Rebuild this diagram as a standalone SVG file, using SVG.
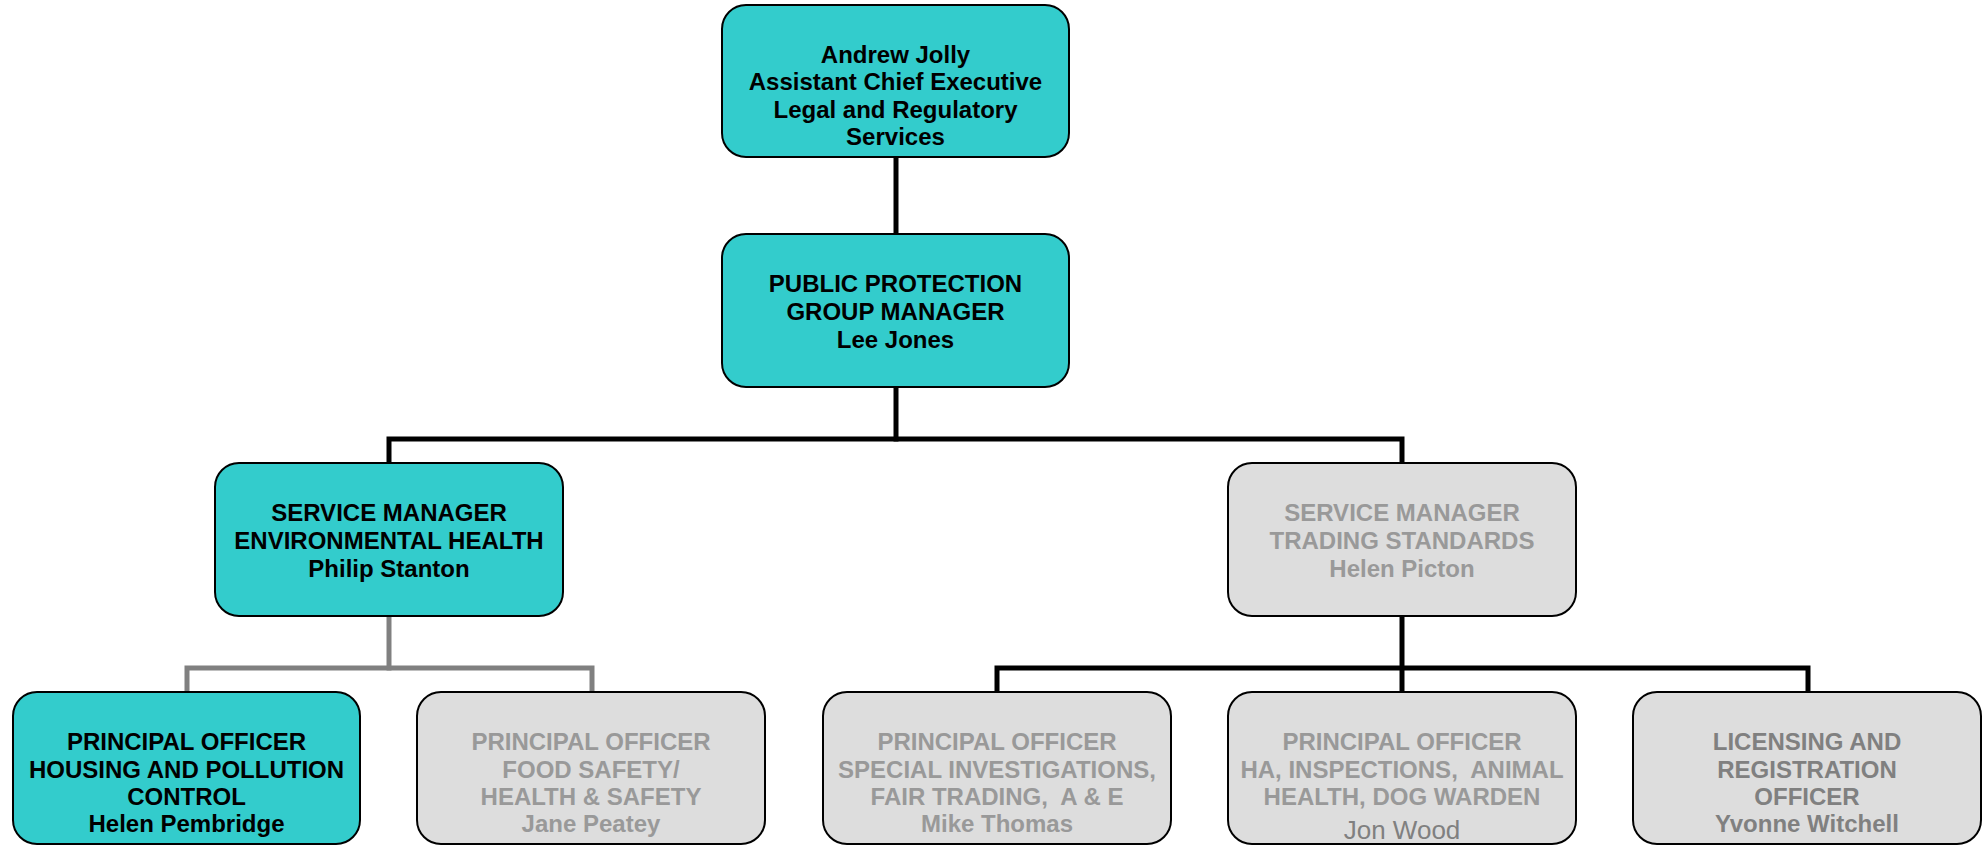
<svg xmlns="http://www.w3.org/2000/svg" width="1988" height="845" viewBox="0 0 1988 845">
<style>
.box{stroke:#000;stroke-width:2}
.teal{fill:#33CCCC}
.grey{fill:#DDDDDD}
text{font-family:"Liberation Sans",Arial,sans-serif;font-size:24px;font-weight:bold;text-anchor:middle}
.dark{fill:#000}
.light{fill:#999999}
.mid{fill:#808080}
.conn{fill:none;stroke-width:5;stroke-linejoin:miter;stroke-linecap:square}
.blk{stroke:#000}
.gry{stroke:#808080}
</style>
<rect width="1988" height="845" fill="#fff"/>
<g id="connectors">
<path class="conn blk" d="M896,157 V234"/>
<path class="conn blk" d="M896,387 V439"/>
<path class="conn blk" d="M389,463 V439 H1402 V463"/>
<path class="conn gry" d="M389,616 V668"/>
<path class="conn gry" d="M187,692 V668 H592 V692"/>
<path class="conn blk" d="M1402,616 V692"/>
<path class="conn blk" d="M997,692 V668 H1808 V692"/>
</g>
<g id="n-ace">
<rect class="box teal" x="722" y="5" width="347" height="152" rx="24"/>
<text class="dark" x="895.5" y="62.5">Andrew Jolly</text>
<text class="dark" x="895.5" y="90">Assistant Chief Executive</text>
<text class="dark" x="895.5" y="117.5">Legal and Regulatory</text>
<text class="dark" x="895.5" y="145">Services</text>
</g>
<g id="n-ppgm">
<rect class="box teal" x="722" y="234" width="347" height="153" rx="24"/>
<text class="dark" x="895.5" y="292">PUBLIC PROTECTION</text>
<text class="dark" x="895.5" y="320">GROUP MANAGER</text>
<text class="dark" x="895.5" y="348">Lee Jones</text>
</g>
<g id="n-smeh">
<rect class="box teal" x="215" y="463" width="348" height="153" rx="24"/>
<text class="dark" x="389" y="521">SERVICE MANAGER</text>
<text class="dark" x="389" y="549">ENVIRONMENTAL HEALTH</text>
<text class="dark" x="389" y="577">Philip Stanton</text>
</g>
<g id="n-smts">
<rect class="box grey" x="1228" y="463" width="348" height="153" rx="24"/>
<text class="light" x="1402" y="521">SERVICE MANAGER</text>
<text class="light" x="1402" y="549">TRADING STANDARDS</text>
<text class="light" x="1402" y="577">Helen Picton</text>
</g>
<g id="n-hpc">
<rect class="box teal" x="13" y="692" width="347" height="152" rx="24"/>
<text class="dark" x="186.5" y="750">PRINCIPAL OFFICER</text>
<text class="dark" x="186.5" y="777.5">HOUSING AND POLLUTION</text>
<text class="dark" x="186.5" y="805">CONTROL</text>
<text class="dark" x="186.5" y="832">Helen Pembridge</text>
</g>
<g id="n-fs">
<rect class="box grey" x="417" y="692" width="348" height="152" rx="24"/>
<text class="light" x="591" y="750">PRINCIPAL OFFICER</text>
<text class="light" x="591" y="777.5">FOOD SAFETY/</text>
<text class="light" x="591" y="805">HEALTH &amp; SAFETY</text>
<text class="light" x="591" y="832">Jane Peatey</text>
</g>
<g id="n-si">
<rect class="box grey" x="823" y="692" width="348" height="152" rx="24"/>
<text class="light" x="997" y="750">PRINCIPAL OFFICER</text>
<text class="light" x="997" y="777.5">SPECIAL INVESTIGATIONS,</text>
<text class="light" x="997" y="805" xml:space="preserve">FAIR TRADING,  A &amp; E</text>
<text class="light" x="997" y="832">Mike Thomas</text>
</g>
<g id="n-ha">
<rect class="box grey" x="1228" y="692" width="348" height="152" rx="24"/>
<text class="light" x="1402" y="750">PRINCIPAL OFFICER</text>
<text class="light" x="1402" y="777.5" xml:space="preserve">HA, INSPECTIONS,  ANIMAL</text>
<text class="light" x="1402" y="805">HEALTH, DOG WARDEN</text>
<text class="mid" x="1402" y="839" style="font-weight:normal;font-size:26px">Jon Wood</text>
</g>
<g id="n-lr">
<rect class="box grey" x="1633" y="692" width="348" height="152" rx="24"/>
<text class="mid" x="1807" y="750">LICENSING AND</text>
<text class="mid" x="1807" y="777.5">REGISTRATION</text>
<text class="mid" x="1807" y="805">OFFICER</text>
<text class="mid" x="1807" y="832">Yvonne Witchell</text>
</g>
</svg>
